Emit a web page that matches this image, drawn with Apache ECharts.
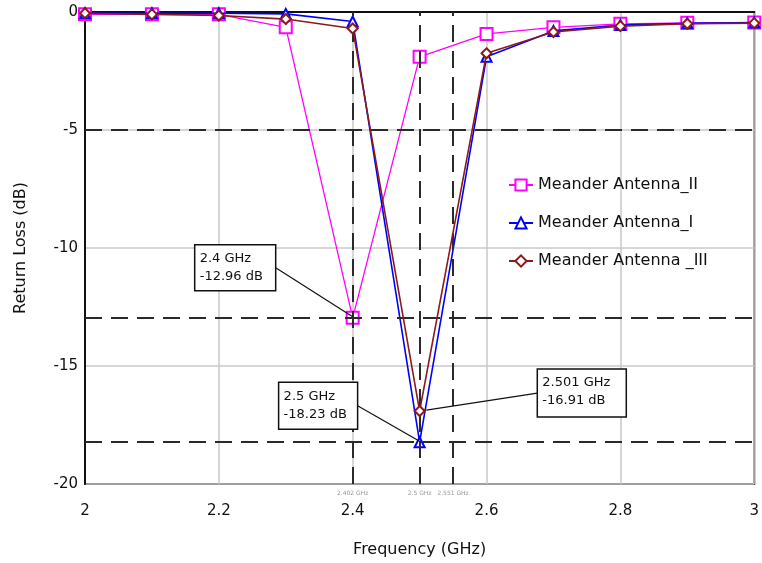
<!DOCTYPE html>
<html><head><meta charset="utf-8">
<script src="https://cdn.jsdelivr.net/npm/echarts@6/dist/echarts.min.js"></script>
<style>html,body{margin:0;padding:0;background:#fff}#c{width:762px;height:563px}</style>
</head><body><div id="c"></div>
<script>
// ---- data ----
const freq = [2.0, 2.1, 2.2, 2.3, 2.4, 2.5, 2.6, 2.7, 2.8, 2.9, 3.0];
const antennaII = [-0.1, -0.1, -0.1, -0.65, -12.96, -1.9, -0.93, -0.65, -0.5, -0.46, -0.45];
const antennaI = [-0.05, -0.05, -0.05, -0.08, -0.4, -18.23, -1.9, -0.8, -0.55, -0.48, -0.45];
const antennaIII = [-0.05, -0.1, -0.15, -0.3, -0.7, -16.91, -1.75, -0.85, -0.6, -0.5, -0.47];
const seriesNames = ['Meander Antenna_II', 'Meander Antenna_I', 'Meander Antenna _III'];
const markerFreqs = [2.402, 2.5, 2.551];
const markerFreqLabels = ['2.402 GHz', '2.5 GHz', '2.551 GHz'];
const markerLevels = [-5, -12.96, -18.23];
const annotFreq = [2.4, 2.5, 2.501];
const annotLevel = [-12.96, -18.23, -16.91];
const annotText = ['2.4 GHz\n-12.96 dB', '2.5 GHz\n-18.23 dB', '2.501 GHz\n-16.91 dB'];

// ---- chart ----
const FONT = 'DejaVu Sans';
const pairs = arr => freq.map((f, i) => [f, arr[i]]);
const dashStyle = {color: '#2a2a2a', width: 2, type: [17, 9]};
const markLineData = [
  ...markerFreqs.map((f, i) => ({xAxis: f, label: {show: true, formatter: markerFreqLabels[i]}})),
  ...markerLevels.map(v => ({yAxis: v, label: {show: false}}))
];

const chart = echarts.init(document.getElementById('c'), null, {renderer: 'canvas'});
chart.setOption({
  backgroundColor: '#fff',
  animation: false,
  textStyle: {fontFamily: FONT},
  grid: {left: 85, right: 4, top: 12, bottom: 74, show: true, borderColor: '#222', borderWidth: 2},
  legend: {
    orient: 'vertical', left: 503, top: 172, itemGap: 22, itemWidth: 24, itemHeight: 14,
    textStyle: {fontFamily: FONT, fontSize: 16, color: '#111'},
    data: seriesNames
  },
  xAxis: {
    type: 'value', min: 2, max: 3, interval: 0.2,
    name: 'Frequency (GHz)', nameLocation: 'middle', nameGap: 58,
    nameTextStyle: {fontFamily: FONT, fontSize: 16, color: '#111'},
    axisLine: {lineStyle: {color: '#111', width: 2}},
    axisTick: {show: false},
    axisLabel: {margin: 20, fontFamily: FONT, fontSize: 15, color: '#111',
      formatter: v => (Math.round(v * 10) / 10).toString()},
    splitLine: {show: true, lineStyle: {color: '#c8c8c8', width: 1.5}}
  },
  yAxis: {
    type: 'value', min: -20, max: 0, interval: 5,
    name: 'Return Loss (dB)', nameLocation: 'middle', nameGap: 56, nameRotate: 90,
    nameTextStyle: {fontFamily: FONT, fontSize: 16, color: '#111'},
    axisLine: {show: true, lineStyle: {color: '#111', width: 2}},
    axisTick: {show: false},
    axisLabel: {margin: 7, fontFamily: FONT, fontSize: 15, color: '#111'},
    splitLine: {show: true, lineStyle: {color: '#c8c8c8', width: 1.5}}
  },
  series: [
    {
      name: seriesNames[0], type: 'line', data: pairs(antennaII),
      symbol: 'emptyRect', symbolSize: 12, showAllSymbol: true,
      lineStyle: {color: '#ff00ff', width: 1.3}, itemStyle: {color: '#ff00ff', borderWidth: 1.5},
      z: 3,
      markLine: {
        silent: true, symbol: 'none', animation: false,
        lineStyle: dashStyle,
        label: {position: 'start', distance: 6, fontSize: 6, color: '#999', fontFamily: FONT},
        data: markLineData
      }
    },
    {
      name: seriesNames[1], type: 'line', data: pairs(antennaI),
      symbol: 'emptyTriangle', symbolSize: 10, showAllSymbol: true,
      lineStyle: {color: '#0000ff', width: 1.6}, itemStyle: {color: '#0000ff', borderWidth: 1.5},
      z: 4
    },
    {
      name: seriesNames[2], type: 'line', data: pairs(antennaIII),
      symbol: 'emptyDiamond', symbolSize: 10, showAllSymbol: true,
      lineStyle: {color: '#8b1a1a', width: 1.6}, itemStyle: {color: '#8b1a1a', borderWidth: 1.5},
      z: 5
    }
  ]
});

// annotation callouts: box offset relative to point (layout only)
const annotLayout = [
  {dx: -158, dy: -73, w: 81, h: 46, side: 'right'},
  {dx: -141, dy: -60, w: 79, h: 47, side: 'right'},
  {dx: 117, dy: -42, w: 89, h: 48, side: 'left'}
];
const elements = [];
annotFreq.forEach((f, i) => {
  const p = chart.convertToPixel({gridIndex: 0}, [f, annotLevel[i]]);
  const L = annotLayout[i];
  const bx = p[0] + L.dx, by = p[1] + L.dy;
  const sx = L.side === 'right' ? bx + L.w : bx;
  const sy = by + L.h / 2;
  const ex = L.side === 'left' ? p[0] + 6 : p[0];
  elements.push({type: 'line', z: 100, shape: {x1: sx, y1: sy, x2: ex, y2: p[1] - 1},
    style: {stroke: '#111', lineWidth: 1.2}});
  elements.push({type: 'rect', z: 100, shape: {x: bx, y: by, width: L.w, height: L.h},
    style: {fill: '#fff', stroke: '#111', lineWidth: 1.5}});
  elements.push({type: 'text', z: 101, x: bx + 5, y: by + 5,
    style: {text: annotText[i], fill: '#111', font: '13px "' + FONT + '"', lineHeight: 18}});
});
chart.setOption({graphic: elements});
</script>
</body></html>
